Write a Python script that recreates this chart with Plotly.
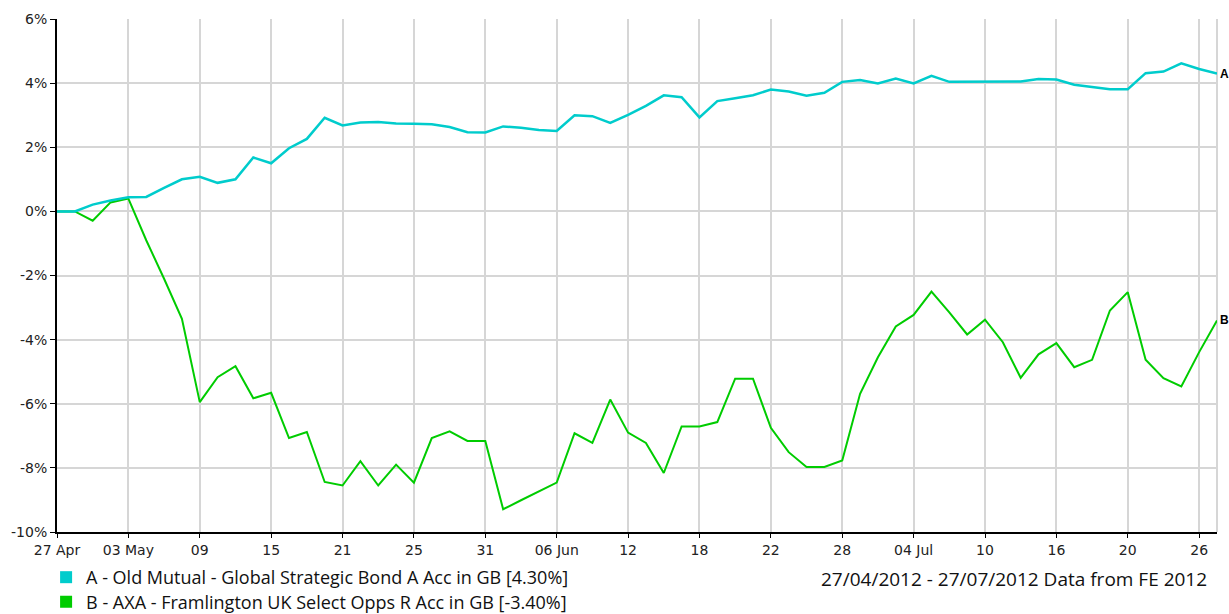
import plotly.graph_objects as go
import pandas as pd

# Trading days (weekdays) 27 Apr 2012 - 27 Jul 2012
dates = [d.strftime("%Y-%m-%d") for d in pd.bdate_range("2012-04-27", "2012-07-27")]

# Cumulative performance, %
fund_a = [0.00, 0.00, 0.21, 0.34, 0.44, 0.45, 0.73, 1.00, 1.08, 0.89,
          1.00, 1.68, 1.50, 1.97, 2.26, 2.92, 2.68, 2.77, 2.79, 2.74,
          2.73, 2.72, 2.63, 2.47, 2.46, 2.65, 2.61, 2.54, 2.51, 3.00,
          2.97, 2.76, 3.01, 3.29, 3.62, 3.56, 2.93, 3.44, 3.53, 3.62,
          3.80, 3.74, 3.61, 3.70, 4.04, 4.10, 3.99, 4.14, 3.99, 4.23,
          4.04, 4.04, 4.04, 4.04, 4.05, 4.13, 4.11, 3.95, 3.88, 3.81,
          3.81, 4.31, 4.36, 4.62, 4.44, 4.30]

fund_b = [0.00, 0.00, -0.29, 0.28, 0.40, -0.90, -2.10, -3.35, -5.95, -5.17,
          -4.83, -5.83, -5.66, -7.07, -6.88, -8.44, -8.55, -7.79, -8.55, -7.90,
          -8.46, -7.07, -6.86, -7.16, -7.16, -9.29, -9.01, -8.73, -8.46, -6.92,
          -7.22, -5.87, -6.90, -7.22, -8.16, -6.71, -6.71, -6.57, -5.22, -5.22,
          -6.75, -7.51, -7.97, -7.97, -7.77, -5.69, -4.55, -3.59, -3.23, -2.50,
          -3.15, -3.84, -3.38, -4.08, -5.19, -4.46, -4.11, -4.86, -4.63, -3.09,
          -2.52, -4.63, -5.20, -5.46, -4.39, -3.40]

tick_dates = ["2012-04-27", "2012-05-03", "2012-05-09", "2012-05-15", "2012-05-21",
              "2012-05-25", "2012-05-31", "2012-06-06", "2012-06-12", "2012-06-18",
              "2012-06-22", "2012-06-28", "2012-07-04", "2012-07-10", "2012-07-16",
              "2012-07-20", "2012-07-26"]
tick_text = ["27 Apr", "03 May", "09", "15", "21", "25", "31", "06 Jun", "12", "18",
             "22", "28", "04 Jul", "10", "16", "20", "26"]

y_ticks = [6, 4, 2, 0, -2, -4, -6, -8, -10]
y_tick_text = ["6%", "4%", "2%", "0%", "-2%", "-4%", "-6%", "-8%", "-10%"]

name_a = "A - Old Mutual - Global Strategic Bond A Acc in GB [4.30%]"
name_b = "B - AXA - Framlington UK Select Opps R Acc in GB [-3.40%]"
period_text = "27/04/2012 - 27/07/2012 Data from FE 2012"

color_a = "#00CCCC"
color_b = "#00CC00"

fig = go.Figure()
fig.add_trace(go.Scatter(x=dates, y=fund_b, mode="lines",
                         line=dict(color=color_b, width=2), showlegend=False,
                         name="B"))
fig.add_trace(go.Scatter(x=dates, y=fund_a, mode="lines",
                         line=dict(color=color_a, width=2.5), showlegend=False,
                         name="A"))
# legend entries with square swatches (one legend per row)
fig.add_trace(go.Scatter(x=[None], y=[None], mode="markers",
                         marker=dict(symbol="square", size=12, color=color_a),
                         name=name_a, legend="legend"))
fig.add_trace(go.Scatter(x=[None], y=[None], mode="markers",
                         marker=dict(symbol="square", size=12, color=color_b),
                         name=name_b, legend="legend2"))

tick_font = dict(family="DejaVu Sans", size=14, color="#222222")
legend_font = dict(family="Open Sans", size=18, color="#111111")
grid = "#d6d6d6"

fig.update_layout(
    width=1229, height=614,
    margin=dict(l=57, r=12, t=19, b=82, autoexpand=False),
    paper_bgcolor="white", plot_bgcolor="white",
    xaxis=dict(type="category", range=[0, len(dates) - 1],
               tickvals=tick_dates, ticktext=tick_text,
               showgrid=True, gridcolor=grid, gridwidth=2,
               showline=True, linecolor="black", linewidth=2,
               ticks="outside", ticklen=4, tickcolor="black",
               tickfont=tick_font, zeroline=False),
    yaxis=dict(range=[-10, 6], tickvals=y_ticks, ticktext=y_tick_text,
               showgrid=True, gridcolor=grid, gridwidth=2,
               showline=True, linecolor="black", linewidth=2,
               ticks="outside", ticklen=5, tickcolor="black",
               tickfont=tick_font, zeroline=False),
    legend=dict(x=-0.0094, y=-0.0526, xanchor="left", yanchor="top",
                font=legend_font, bgcolor="rgba(0,0,0,0)"),
    legend2=dict(x=-0.0094, y=-0.1004, xanchor="left", yanchor="top",
                 font=legend_font, bgcolor="rgba(0,0,0,0)"),
    shapes=[
        dict(type="line", xref="paper", x0=0, x1=1, yref="y", y0=0, y1=0,
             line=dict(color="#222222", width=1, dash="4px,2px,1px,2px"),
             layer="between"),
        dict(type="line", xref="paper", x0=1, x1=1, yref="paper", y0=0, y1=1,
             line=dict(color=grid, width=2), layer="between"),
    ],
    annotations=[
        dict(x=dates[-1], y=fund_a[-1], xref="x", yref="y", text="<b>A</b>",
             showarrow=False, xanchor="left", xshift=1,
             font=dict(family="Liberation Sans", size=12, color="black")),
        dict(x=dates[-1], y=fund_b[-1], xref="x", yref="y", text="<b>B</b>",
             showarrow=False, xanchor="left", xshift=1,
             font=dict(family="Liberation Sans", size=12, color="black")),
        dict(x=0.9935, y=-0.0916, xref="paper", yref="paper", text=period_text,
             showarrow=False, xanchor="right", yanchor="middle",
             font=dict(family="Open Sans", size=19, color="#111111")),
    ],
)

fig.write_html("out.html", config={"displayModeBar": False},
               post_script="document.body.style.margin='0';document.body.style.overflow='hidden';")
